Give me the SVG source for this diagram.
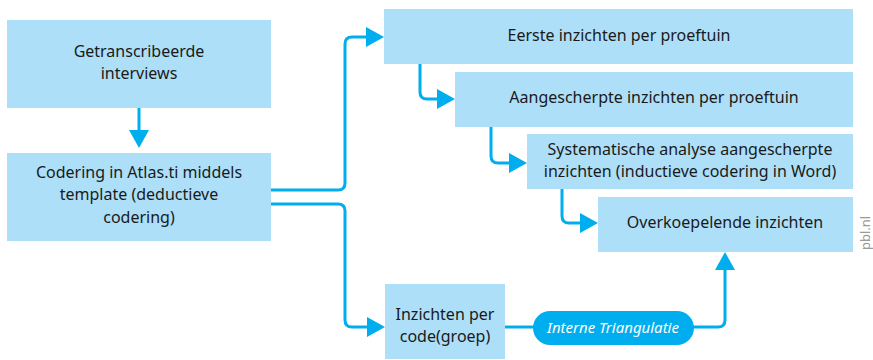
<svg xmlns="http://www.w3.org/2000/svg" width="873" height="360" viewBox="0 0 873 360">
<style>
.box{fill:#addff8}
.t{font-family:"Noto Sans","Open Sans",sans-serif;font-size:16px;fill:#1a1a1a;text-anchor:middle}
.c{fill:none;stroke:#00aeef;stroke-width:3;stroke-linejoin:round}
.ah{fill:#00aeef}
.pill{fill:#00aeef}
.pt{font-family:"Noto Sans","Open Sans",sans-serif;font-size:15px;font-style:italic;fill:#ffffff;text-anchor:middle}
.pbl{font-family:"Noto Sans","Open Sans",sans-serif;font-size:13px;fill:#9a9a9a;text-anchor:middle}
</style>
<rect width="873" height="360" fill="#ffffff"/>
<g id="connectors">
<path class="c" d="M139,108 V131"/>
<polygon class="ah" points="129,130 149,130 139,148"/>
<path class="c" d="M271,190 H338 Q345,190 345,183 V44 Q345,37 352,37 H367"/>
<polygon class="ah" points="366,27 366,47 384,37"/>
<path class="c" d="M271,204 H338 Q345,204 345,211 V320 Q345,327 352,327 H367"/>
<polygon class="ah" points="367,317 367,337 385,327"/>
<path class="c" d="M420,64 V92 Q420,99 427,99 H438"/>
<polygon class="ah" points="437,89 437,109 455,99"/>
<path class="c" d="M491,127 V156 Q491,163 498,163 H510"/>
<polygon class="ah" points="509,153 509,173 527,163"/>
<path class="c" d="M562,189 V216 Q562,223 569,223 H581"/>
<polygon class="ah" points="580,213 580,233 598,223"/>
<path class="c" d="M505,327 H534"/>
<path class="c" d="M693,327 H718 Q725,327 725,320 V268"/>
<polygon class="ah" points="715,270 735,270 725,252"/>
</g>
<g id="n1">
<rect class="box" x="7" y="20" width="264" height="88"/>
<text class="t" x="139" y="57">Getranscribeerde</text>
<text class="t" x="139" y="79">interviews</text>
</g>
<g id="n2">
<rect class="box" x="7" y="153" width="264" height="88"/>
<text class="t" x="139" y="178">Codering in Atlas.ti middels</text>
<text class="t" x="139" y="200">template (deductieve</text>
<text class="t" x="139" y="223">codering)</text>
</g>
<g id="n3">
<rect class="box" x="384" y="9" width="469" height="55"/>
<text class="t" x="619" y="41">Eerste inzichten per proeftuin</text>
</g>
<g id="n4">
<rect class="box" x="455" y="72" width="398" height="55"/>
<text class="t" x="654" y="103">Aangescherpte inzichten per proeftuin</text>
</g>
<g id="n5">
<rect class="box" x="527" y="134" width="326" height="55"/>
<text class="t" x="690" y="155">Systematische analyse aangescherpte</text>
<text class="t" x="690" y="177">inzichten (inductieve codering in Word)</text>
</g>
<g id="n6">
<rect class="box" x="598" y="197" width="255" height="55"/>
<text class="t" x="725" y="228">Overkoepelende inzichten</text>
</g>
<g id="n7">
<rect class="box" x="385" y="284" width="120" height="75"/>
<text class="t" x="445" y="320">Inzichten per</text>
<text class="t" x="445" y="342">code(groep)</text>
</g>
<g id="n8">
<rect class="pill" x="533" y="311" width="161" height="34" rx="17"/>
<text class="pt" x="613" y="333">Interne Triangulatie</text>
</g>
<text class="pbl" transform="translate(870,233) rotate(-90)">pbl.nl</text>
</svg>
